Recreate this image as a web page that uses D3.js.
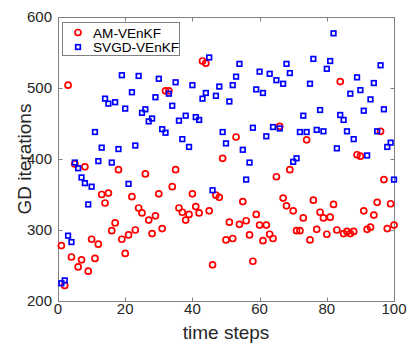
<!DOCTYPE html>
<html>
<head>
<meta charset="utf-8">
<script src="https://cdn.jsdelivr.net/npm/d3@7"></script>
<style>
body { margin: 0; background: #fff; }
svg { font-family: "Liberation Sans", Arial, sans-serif; }
.axis-line { fill: none; stroke: #808080; stroke-width: 1; }
.tick-label { font-size: 15px; fill: #262626; }
.axis-title { font-size: 19px; fill: #262626; }
.am { fill: none; stroke: #ff0000; stroke-width: 1.7; }
.svgd { fill: none; stroke: #0000ff; stroke-width: 1.7; }
</style>
</head>
<body>
<svg width="415" height="350"></svg>
<script>
// time steps 1..100
var steps = d3.range(1, 101);

var amVEnKF = [
    278, 222, 504, 262, 393, 248, 258, 389, 242, 287,
    260, 280, 350, 338, 352, 299, 310, 385, 287, 267,
    293, 347, 300, 331, 324, 379, 314, 295, 320, 351,
    302, 496, 496, 361, 385, 331, 325, 314, 322, 351,
    333, 324, 538, 535, 327, 251, 349, 346, 401, 286,
    311, 288, 431, 308, 340, 313, 293, 256, 322, 307,
    285, 307, 294, 288, 375, 446, 345, 334, 385, 327,
    299, 299, 317, 427, 286, 342, 301, 325, 317, 294,
    318, 336, 300, 509, 295, 298, 295, 298, 406, 404,
    327, 301, 304, 321, 339, 439, 371, 302, 337, 307
];

var svgdVEnKF = [
    225, 229, 292, 283, 395, 387, 374, 366, 336, 361,
    438, 397, 416, 485, 478, 395, 480, 414, 518, 471,
    365, 494, 419, 517, 465, 470, 453, 457, 487, 513,
    442, 437, 492, 475, 508, 454, 428, 461, 417, 504,
    459, 455, 485, 493, 543, 356, 489, 502, 438, 422,
    481, 504, 516, 534, 413, 371, 395, 444, 498, 523,
    493, 432, 520, 445, 511, 443, 506, 534, 521, 396,
    401, 438, 461, 438, 506, 541, 441, 469, 439, 527,
    538, 577, 415, 462, 455, 439, 492, 428, 515, 497,
    468, 405, 484, 507, 439, 532, 470, 417, 423, 371
];

var xTicks = [0, 20, 40, 60, 80, 100];
var yTicks = [200, 300, 400, 500, 600];
var seriesNames = ["AM-VEnKF", "SVGD-VEnKF"];

var svg = d3.select("svg"),
    pLeft = 58, pRight = 394, pTop = 17, pBottom = 301;

var x = d3.scaleLinear().domain([0, 100]).range([pLeft, pRight]);
var y = d3.scaleLinear().domain([200, 600]).range([pBottom, pTop]);

var g = svg.append("g");

// box
g.append("rect")
    .attr("class", "axis-line")
    .attr("x", pLeft + 0.5)
    .attr("y", pTop + 0.5)
    .attr("width", pRight - pLeft)
    .attr("height", pBottom - pTop);

// ticks on all four sides, pointing in
var tickLen = 4;
xTicks.forEach(function(t) {
    var px = Math.round(x(t)) + 0.5;
    g.append("line").attr("class", "axis-line")
        .attr("x1", px).attr("x2", px).attr("y1", pBottom + 0.5).attr("y2", pBottom + 0.5 - tickLen);
    g.append("line").attr("class", "axis-line")
        .attr("x1", px).attr("x2", px).attr("y1", pTop + 0.5).attr("y2", pTop + 0.5 + tickLen);
    g.append("text").attr("class", "tick-label")
        .attr("x", x(t)).attr("y", pBottom + 13)
        .attr("text-anchor", "middle")
        .text(t);
});
yTicks.forEach(function(t) {
    var py = Math.round(y(t)) + 0.5;
    g.append("line").attr("class", "axis-line")
        .attr("x1", pLeft + 0.5).attr("x2", pLeft + 0.5 + tickLen).attr("y1", py).attr("y2", py);
    g.append("line").attr("class", "axis-line")
        .attr("x1", pRight + 0.5).attr("x2", pRight + 0.5 - tickLen).attr("y1", py).attr("y2", py);
    g.append("text").attr("class", "tick-label")
        .attr("x", pLeft - 6).attr("y", y(t) + 5)
        .attr("text-anchor", "end")
        .text(t);
});

// axis titles
svg.append("text").attr("class", "axis-title")
    .attr("x", (pLeft + pRight) / 2).attr("y", 339)
    .attr("text-anchor", "middle")
    .text("time steps");
svg.append("text").attr("class", "axis-title")
    .attr("transform", "translate(31," + (pTop + pBottom) / 2 + ") rotate(-90)")
    .attr("text-anchor", "middle")
    .text("GD iterations");

// points
var plot = svg.append("g");
var rad = 3;
plot.selectAll(".am")
    .data(steps)
    .enter().append("circle")
    .attr("class", "am")
    .attr("cx", function(d, i) { return x(d); })
    .attr("cy", function(d, i) { return y(amVEnKF[i]); })
    .attr("r", rad);

var sq = 4.6;
plot.selectAll(".svgd")
    .data(steps)
    .enter().append("rect")
    .attr("class", "svgd")
    .attr("x", function(d, i) { return x(d) - sq / 2; })
    .attr("y", function(d, i) { return y(svgdVEnKF[i]) - sq / 2; })
    .attr("width", sq)
    .attr("height", sq);

// legend
var lg = svg.append("g");
lg.append("rect")
    .attr("x", 62.5).attr("y", 22.5)
    .attr("width", 117).attr("height", 33)
    .attr("fill", "#fff").attr("stroke", "#808080");
lg.append("circle").attr("class", "am")
    .attr("cx", 78).attr("cy", 32.5).attr("r", rad);
lg.append("rect").attr("class", "svgd")
    .attr("x", 78 - sq / 2).attr("y", 47 - sq / 2)
    .attr("width", sq).attr("height", sq);
seriesNames.forEach(function(name, i) {
    lg.append("text")
        .attr("x", 93).attr("y", 37.5 + i * 14.5)
        .attr("font-size", "13.6px").attr("fill", "#000")
        .text(name);
});
</script>
</body>
</html>
